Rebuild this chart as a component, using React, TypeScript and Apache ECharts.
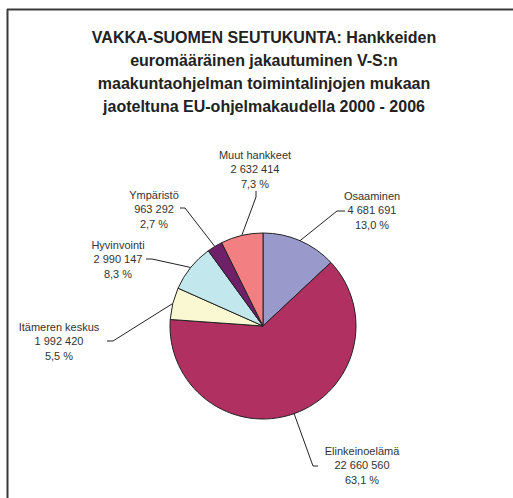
import React, { useEffect, useRef } from "react";
import * as echarts from "echarts";

const categories = [
  "Osaaminen",
  "Elinkeinoelämä",
  "Itämeren keskus",
  "Hyvinvointi",
  "Ympäristö",
  "Muut hankkeet",
];
const values = [4681691, 22660560, 1992420, 2990147, 963292, 2632414];
const colors = ["#9999CC", "#B03062", "#FAF8D2", "#C2E8EE", "#6E2068", "#F28082"];

const titleText =
  "VAKKA-SUOMEN SEUTUKUNTA: Hankkeiden\neuromääräinen jakautuminen V-S:n\nmaakuntaohjelman toimintalinjojen mukaan\njaoteltuna EU-ohjelmakaudella 2000 - 2006";

// label placement (layout only): text centre, elbow and end of leader line
const labelPlacement = [
  { x: 372, y: 210, elbow: [337, 211], end: [345, 211] },
  { x: 362, y: 465, elbow: [313, 466], end: [318, 466] },
  { x: 59, y: 341, elbow: [113, 341], end: [107, 341] },
  { x: 118, y: 259, elbow: [152, 259], end: [146, 259] },
  { x: 154, y: 209, elbow: [185, 208], end: [180, 208] },
  { x: 255, y: 169, elbow: [256, 197], end: [256, 191] },
];

const FONT = "'Liberation Sans', Arial, sans-serif";

function fmtThousands(v: number): string {
  return String(v).replace(/\B(?=(\d{3})+(?!\d))/g, " ");
}

export default function App() {
  const ref = useRef<HTMLDivElement>(null);
  useEffect(() => {
    if (!ref.current) return;
    const chart = echarts.init(ref.current, undefined, { renderer: "svg" });
    const total = values.reduce((a, b) => a + b, 0);
    chart.setOption({
      animation: false,
      backgroundColor: "#ffffff",
      title: {
        text: titleText,
        left: 264,
        top: 26,
        padding: 0,
        textAlign: "center",
        textStyle: {
          fontFamily: FONT,
          fontSize: 16,
          fontWeight: "bold",
          color: "#222",
          lineHeight: 23,
        },
      },
      graphic: [
        {
          type: "line",
          shape: { x1: 7, y1: 9.5, x2: 513, y2: 9.5 },
          style: { stroke: "#3a3a3a", lineWidth: 2 },
        },
        {
          type: "line",
          shape: { x1: 7.5, y1: 9, x2: 7.5, y2: 498 },
          style: { stroke: "#3a3a3a", lineWidth: 2 },
        },
      ],
      series: [
        {
          type: "pie",
          center: [263, 326],
          radius: 93,
          startAngle: 90,
          clockwise: true,
          avoidLabelOverlap: false,
          itemStyle: { borderColor: "#222", borderWidth: 1 },
          emphasis: { disabled: true },
          data: categories.map((c, i) => ({
            name: c,
            value: values[i],
            itemStyle: { color: colors[i] },
          })),
          label: {
            show: true,
            position: "outside",
            fontFamily: FONT,
            fontSize: 11,
            color: "#333",
            lineHeight: 14.5,
            align: "center",
            formatter: (p: any) =>
              `${p.name}\n${fmtThousands(p.value)}\n${((p.value / total) * 100)
                .toFixed(1)
                .replace(".", ",")} %`,
          },
          labelLine: {
            show: true,
            length: 10,
            length2: 10,
            lineStyle: { color: "#222", width: 1 },
          },
          labelLayout: (params: any) => {
            const lp = labelPlacement[params.dataIndex];
            const start = params.labelLinePoints
              ? params.labelLinePoints[0]
              : lp.elbow;
            return {
              x: lp.x,
              y: lp.y,
              align: "center",
              verticalAlign: "middle",
              labelLinePoints: [start, lp.elbow, lp.end],
            };
          },
        },
      ],
    });
    return () => chart.dispose();
  }, []);
  return (
    <div
      ref={ref}
      style={{ position: "fixed", left: 0, top: 0, width: 513, height: 498 }}
    />
  );
}
